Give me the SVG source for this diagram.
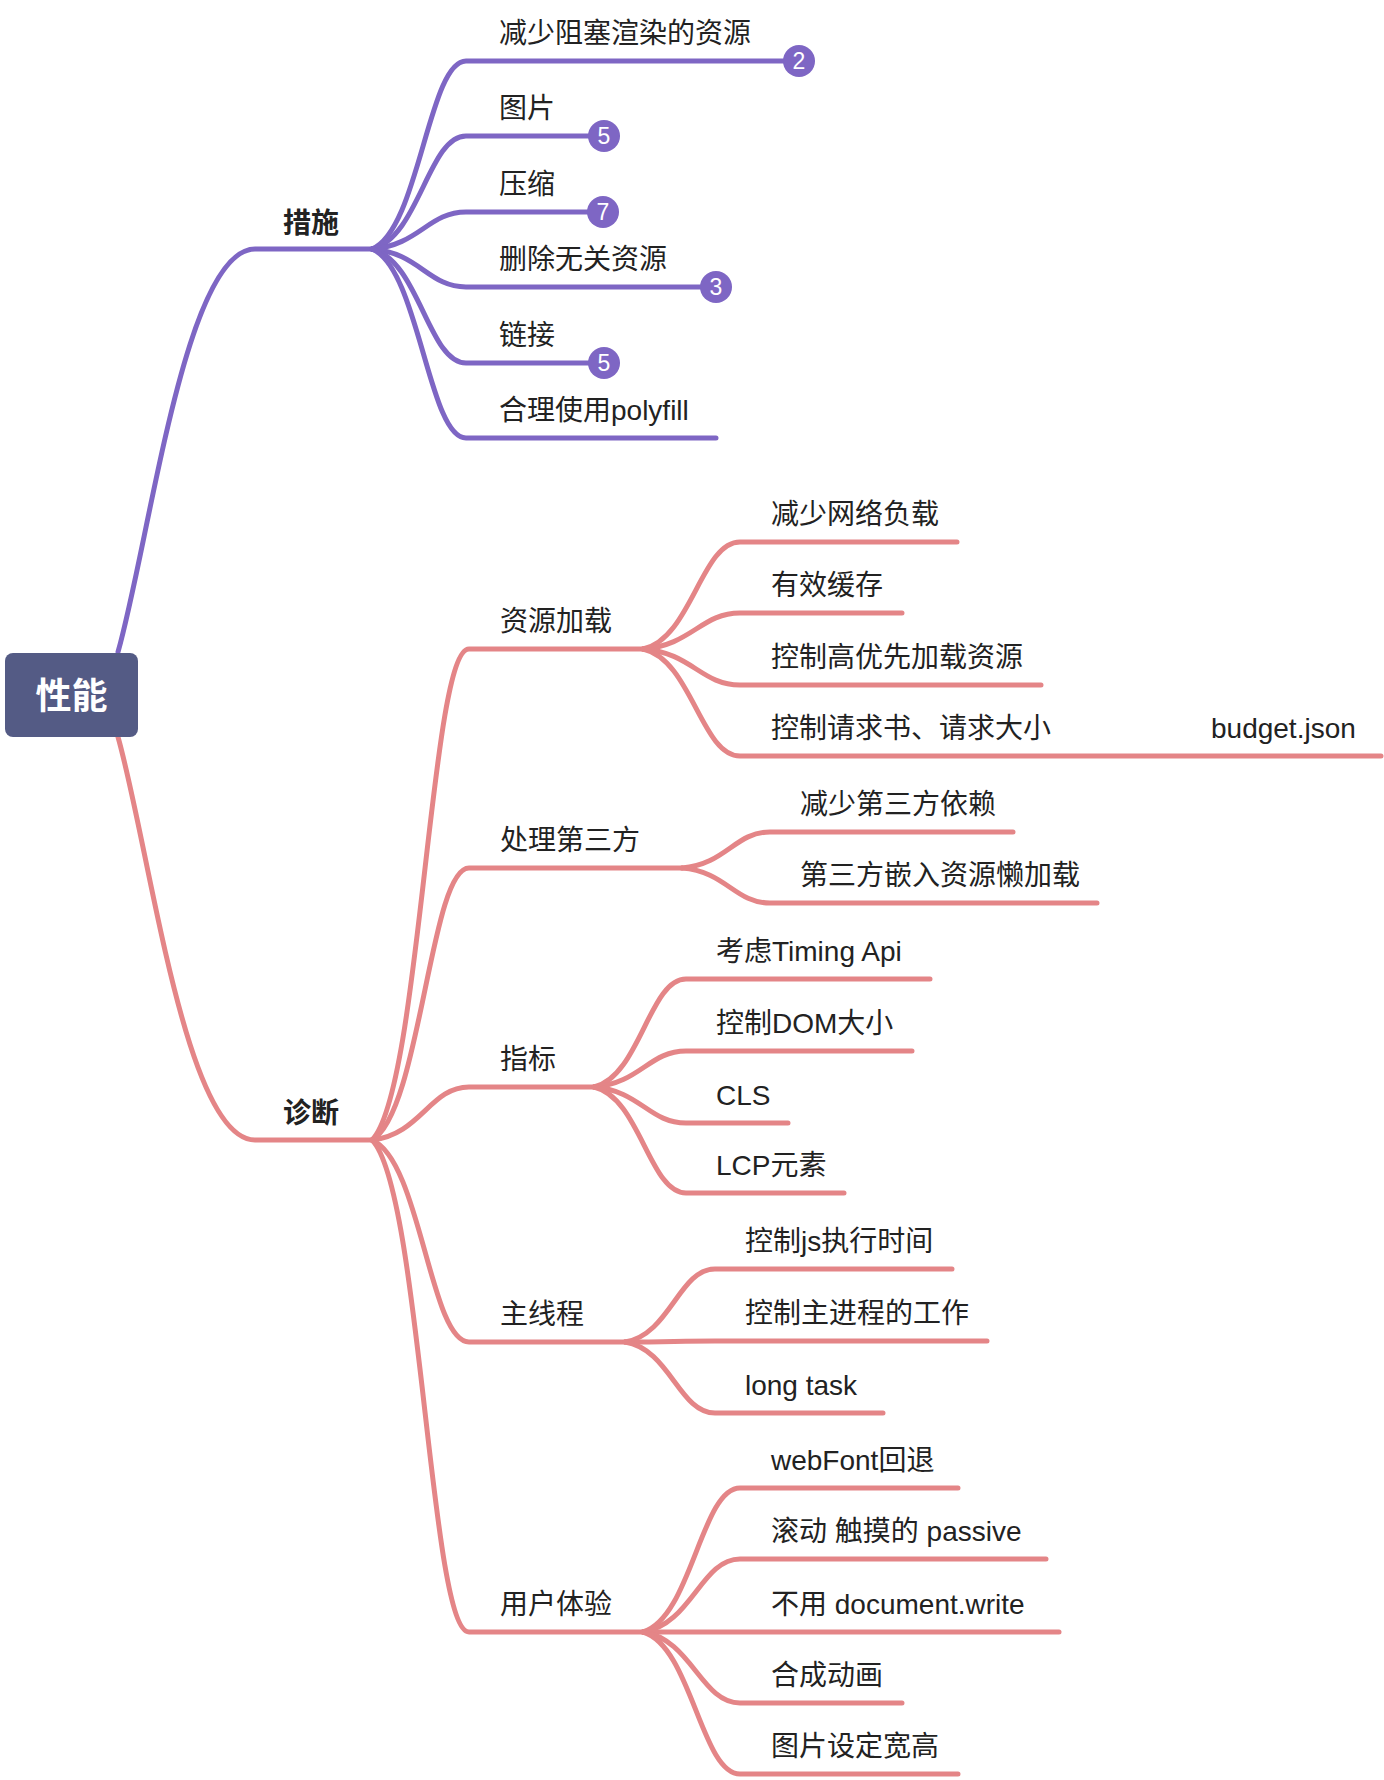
<svg xmlns="http://www.w3.org/2000/svg" width="1384" height="1780" viewBox="0 0 1384 1780">
<style>
.p{fill:none;stroke:#7e66c4;stroke-width:5;stroke-linecap:round;stroke-linejoin:round}
.r{fill:none;stroke:#e48587;stroke-width:5;stroke-linecap:round;stroke-linejoin:round}
text{font-family:"Liberation Sans","Noto Sans CJK SC",sans-serif;fill:#222;font-size:28px}
.b{font-weight:bold}
.root{fill:#fff;font-size:36px;font-weight:bold;text-anchor:middle}
.badge circle{fill:#7e66c4}
.badge text{fill:#fff;font-size:23px;text-anchor:middle}
</style>
<rect width="1384" height="1780" fill="#fff"/>
<g id="connectors">
<path class="p" d="M118 652 C150 539 185 249 255 249 H372"/>
<path class="r" d="M118 737 C150 850 185 1140 255 1140 H372"/>
<path class="p" d="M372 249 C419 230.2 428.4 61 466 61 H799"/>
<path class="p" d="M372 249 C419 237.7 428.4 136 466 136 H604"/>
<path class="p" d="M372 249 C419 245.3 428.4 212 466 212 H603"/>
<path class="p" d="M372 249 C419 252.8 428.4 287 466 287 H716"/>
<path class="p" d="M372 249 C419 260.4 428.4 363 466 363 H604"/>
<path class="p" d="M372 249 C419 267.9 428.4 438 466 438 H716"/>
<path class="r" d="M372 1140 C420.5 1090.9 430.2 649 469 649 H643"/>
<path class="r" d="M372 1140 C420.5 1112.8 430.2 868 469 868 H682"/>
<path class="r" d="M372 1140 C420.5 1134.7 430.2 1087 469 1087 H594"/>
<path class="r" d="M372 1140 C420.5 1160.2 430.2 1342 469 1342 H625"/>
<path class="r" d="M372 1140 C420.5 1189.2 430.2 1632 469 1632 H643"/>
<path class="r" d="M643 649 C691.5 638.3 701.2 542 740 542 H957"/>
<path class="r" d="M643 649 C691.5 645.4 701.2 613 740 613 H902"/>
<path class="r" d="M643 649 C691.5 652.6 701.2 685 740 685 H1041"/>
<path class="r" d="M643 649 C691.5 659.7 701.2 756 740 756 H1381"/>
<path class="r" d="M682 868 C726 864.4 734.8 832 770 832 H1013"/>
<path class="r" d="M682 868 C726 871.5 734.8 903 770 903 H1097"/>
<path class="r" d="M594 1087 C640 1076.2 649.2 979 686 979 H930"/>
<path class="r" d="M594 1087 C640 1083.4 649.2 1051 686 1051 H912"/>
<path class="r" d="M594 1087 C640 1090.6 649.2 1123 686 1123 H788"/>
<path class="r" d="M594 1087 C640 1097.6 649.2 1193 686 1193 H844"/>
<path class="r" d="M625 1342 C670 1334.7 679 1269 715 1269 H952"/>
<path class="r" d="M625 1342 C670 1341.9 679 1341 715 1341 H987"/>
<path class="r" d="M625 1342 C670 1349.1 679 1413 715 1413 H883"/>
<path class="r" d="M643 1632 C691.5 1617.6 701.2 1488 740 1488 H958"/>
<path class="r" d="M643 1632 C691.5 1624.7 701.2 1559 740 1559 H1046"/>
<path class="r" d="M643 1632 H1059"/>
<path class="r" d="M643 1632 C691.5 1639.1 701.2 1703 740 1703 H902"/>
<path class="r" d="M643 1632 C691.5 1646.2 701.2 1774 740 1774 H958"/>
</g>
<g id="root"><rect x="5" y="653" width="133" height="84" rx="8" fill="#545b85"/><text class="root" x="71.5" y="709">性能</text></g>
<g id="n-cuoshi"><text class="b" x="283" y="233">措施</text></g>
<g id="n-zhenduan"><text class="b" x="283" y="1123">诊断</text></g>
<g id="n1"><text x="499" y="43">减少阻塞渲染的资源</text><g class="badge"><circle cx="799" cy="61" r="16"/><text x="799" y="69">2</text></g></g>
<g id="n2"><text x="499" y="118">图片</text><g class="badge"><circle cx="604" cy="136" r="16"/><text x="604" y="144">5</text></g></g>
<g id="n3"><text x="499" y="194">压缩</text><g class="badge"><circle cx="603" cy="212" r="16"/><text x="603" y="220">7</text></g></g>
<g id="n4"><text x="499" y="269">删除无关资源</text><g class="badge"><circle cx="716" cy="287" r="16"/><text x="716" y="295">3</text></g></g>
<g id="n5"><text x="499" y="345">链接</text><g class="badge"><circle cx="604" cy="363" r="16"/><text x="604" y="371">5</text></g></g>
<g id="n6"><text x="499" y="420">合理使用polyfill</text></g>
<g id="n-ziyuan"><text x="500" y="631">资源加载</text></g>
<g id="n-disanfang"><text x="500" y="850">处理第三方</text></g>
<g id="n-zhibiao"><text x="500" y="1069">指标</text></g>
<g id="n-zhuxiancheng"><text x="500" y="1324">主线程</text></g>
<g id="n-tiyan"><text x="500" y="1614">用户体验</text></g>
<g id="n-zy1"><text x="771" y="524">减少网络负载</text></g>
<g id="n-zy2"><text x="771" y="595">有效缓存</text></g>
<g id="n-zy3"><text x="771" y="667">控制高优先加载资源</text></g>
<g id="n-zy4"><text x="771" y="738">控制请求书、请求大小</text><text x="1211" y="738">budget.json</text></g>
<g id="n-df1"><text x="800" y="814">减少第三方依赖</text></g>
<g id="n-df2"><text x="800" y="885">第三方嵌入资源懒加载</text></g>
<g id="n-zb1"><text x="716" y="961">考虑Timing Api</text></g>
<g id="n-zb2"><text x="716" y="1033">控制DOM大小</text></g>
<g id="n-zb3"><text x="716" y="1105">CLS</text></g>
<g id="n-zb4"><text x="716" y="1175">LCP元素</text></g>
<g id="n-zx1"><text x="745" y="1251">控制js执行时间</text></g>
<g id="n-zx2"><text x="745" y="1323">控制主进程的工作</text></g>
<g id="n-zx3"><text x="745" y="1395">long task</text></g>
<g id="n-ty1"><text x="771" y="1470">webFont回退</text></g>
<g id="n-ty2"><text x="771" y="1541">滚动 触摸的 passive</text></g>
<g id="n-ty3"><text x="771" y="1614">不用 document.write</text></g>
<g id="n-ty4"><text x="771" y="1685">合成动画</text></g>
<g id="n-ty5"><text x="771" y="1756">图片设定宽高</text></g>
</svg>
